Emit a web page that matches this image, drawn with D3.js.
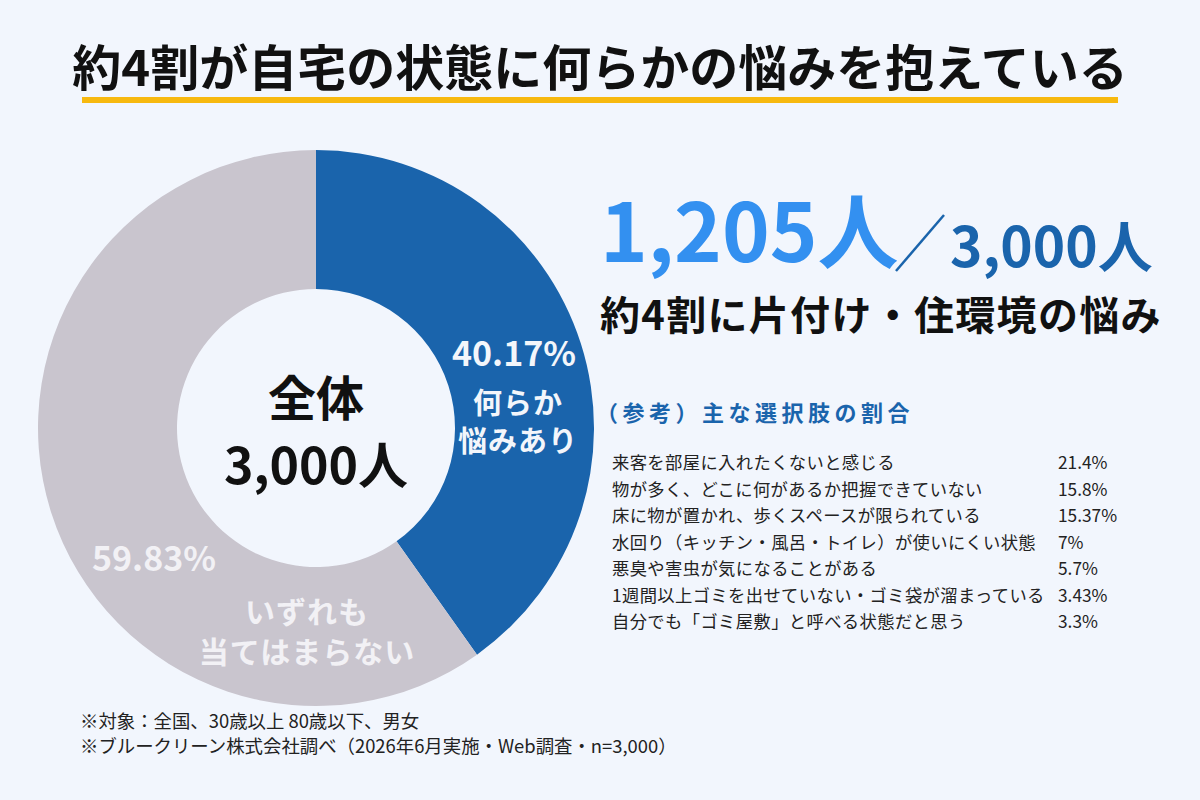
<!DOCTYPE html>
<html><head><meta charset="utf-8">
<script src="https://cdn.jsdelivr.net/npm/d3@7"></script>
<style>
html,body{margin:0;padding:0;background:#f2f6fd;}
svg{display:block;font-family:"Noto Sans CJK JP","Noto Sans",sans-serif;}
</style></head>
<body><svg id="c" width="1200" height="800"></svg>
<script>
const title = "約4割が自宅の状態に何らかの悩みを抱えている";
const donutCategories = ["何らか悩みあり", "いずれも当てはまらない"];
const donutValues = [40.17, 59.83];
const donutPctLabels = ["40.17%", "59.83%"];
const donutNameLines = [["何らか", "悩みあり"], ["いずれも", "当てはまらない"]];
const centerLines = ["全体", "3,000人"];
const bigCount = "1,205人";
const bigTotal = "3,000人";
const subtitle = "約4割に片付け・住環境の悩み";
const refHeading = "（参考）主な選択肢の割合";
const optionLabels = [
  "来客を部屋に入れたくないと感じる",
  "物が多く、どこに何があるか把握できていない",
  "床に物が置かれ、歩くスペースが限られている",
  "水回り（キッチン・風呂・トイレ）が使いにくい状態",
  "悪臭や害虫が気になることがある",
  "1週間以上ゴミを出せていない・ゴミ袋が溜まっている",
  "自分でも「ゴミ屋敷」と呼べる状態だと思う"
];
const optionValues = ["21.4%", "15.8%", "15.37%", "7%", "5.7%", "3.43%", "3.3%"];
const footnotes = [
  "※対象：全国、30歳以上 80歳以下、男女",
  "※ブルークリーン株式会社調べ（2026年6月実施・Web調査・n=3,000）"
];

const svg = d3.select("#c");
svg.append("rect").attr("width",1200).attr("height",800).attr("fill","#f2f6fd");

// Title
svg.append("text").attr("x",600).attr("y",86).attr("text-anchor","middle")
  .attr("font-size",49).attr("font-weight",700).attr("fill","#111").text(title);
svg.append("rect").attr("x",82).attr("y",97).attr("width",1036).attr("height",6).attr("fill","#f7b90f");

// Donut
const cx = 316, cy = 428, R = 278, r0 = 139;
const colors = d3.scaleOrdinal().domain(donutCategories).range(["#1a64ac", "#c9c5ce"]);
const pie = d3.pie().sort(null).value(d => d.v);
const data = donutCategories.map((c,i)=>({c, v: donutValues[i], i}));
const arcs = pie(data);
const arc = d3.arc().innerRadius(r0).outerRadius(R);
const g = svg.append("g").attr("transform",`translate(${cx},${cy})`);
g.selectAll("path").data(arcs).join("path").attr("d",arc).attr("fill",d=>colors(d.data.c));

// Slice labels
const labelPos = [
  {pct:[198,-62], name:[[202,-14],[202,24]]},
  {pct:[-162,143], name:[[-9,195],[-9,235]]}
];
arcs.forEach((a,i)=>{
  const p = labelPos[i];
  const fill = i===0 ? "#f3f6fb" : "#f2f1f5";
  g.append("text").attr("x",p.pct[0]).attr("y",p.pct[1]).attr("text-anchor","middle")
    .attr("font-size",34).attr("font-weight",700).attr("fill",fill).text(donutPctLabels[i]);
  donutNameLines[i].forEach((t,j)=>{
    g.append("text").attr("x",p.name[j][0]).attr("y",p.name[j][1]).attr("text-anchor","middle")
      .attr("font-size",i===0?29:30).attr("font-weight",700).attr("fill",fill).attr("letter-spacing",1).text(t);
  });
});

// Center text
g.append("text").attr("x",0).attr("y",-12).attr("text-anchor","middle")
  .attr("font-size",48).attr("font-weight",700).attr("fill","#111").text(centerLines[0]);
g.append("text").attr("x",0).attr("y",56).attr("text-anchor","middle")
  .attr("font-size",50).attr("font-weight",700).attr("fill","#111").text(centerLines[1]);

// Big number
svg.append("text").attr("x",600).attr("y",262).attr("font-size",81).attr("font-weight",700)
  .attr("fill","#3390f0").text(bigCount);
svg.append("line").attr("x1",896).attr("y1",271).attr("x2",944).attr("y2",215)
  .attr("stroke","#1a64ac").attr("stroke-width",2.5);
svg.append("text").attr("x",950).attr("y",267).attr("font-size",55).attr("font-weight",700)
  .attr("fill","#1a64ac").text(bigTotal);
svg.append("text").attr("x",600).attr("y",330).attr("font-size",40).attr("font-weight",700)
  .attr("fill","#111").attr("letter-spacing",1.3).text(subtitle);

// Reference list
svg.append("text").attr("x",596).attr("y",421).attr("font-size",22).attr("font-weight",700)
  .attr("fill","#1a64ac").attr("letter-spacing",4.5).text(refHeading);
const rowY = d3.scalePoint().domain(d3.range(optionLabels.length)).range([469, 628]);
optionLabels.forEach((t,i)=>{
  svg.append("text").attr("x",612).attr("y",rowY(i)).attr("font-size",17.3)
    .attr("fill","#222").attr("letter-spacing",0.4).text(t);
  svg.append("text").attr("x",1058).attr("y",rowY(i)).attr("font-size",17.3)
    .attr("fill","#222").text(optionValues[i]);
});

// Footnotes
footnotes.forEach((t,i)=>{
  svg.append("text").attr("x",80).attr("y",728+i*25).attr("font-size",18.4)
    .attr("fill","#222").text(t);
});
</script></body></html>
